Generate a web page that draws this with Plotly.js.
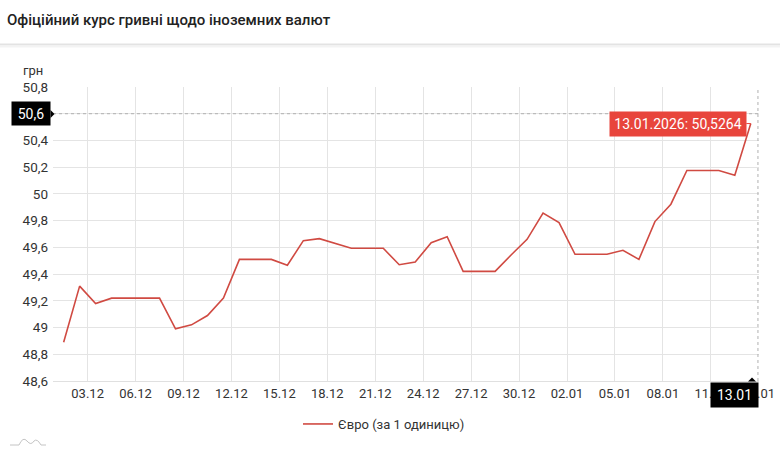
<!DOCTYPE html>
<html>
<head>
<meta charset="utf-8">
<script src="https://cdn.plot.ly/plotly-3.0.1.min.js"></script>
<style>
  html, body { margin: 0; padding: 0; background: #fff; }
  #chart { width: 780px; height: 458px; }
</style>
</head>
<body>
<div id="chart"></div>
<script>
// дати курсу (точка ставиться на середину дня)
const dates = [
  '2025-12-01', '2025-12-02', '2025-12-03', '2025-12-04', '2025-12-05', '2025-12-06',
  '2025-12-07', '2025-12-08', '2025-12-09', '2025-12-10', '2025-12-11', '2025-12-12',
  '2025-12-13', '2025-12-14', '2025-12-15', '2025-12-16', '2025-12-17', '2025-12-18',
  '2025-12-19', '2025-12-20', '2025-12-21', '2025-12-22', '2025-12-23', '2025-12-24',
  '2025-12-25', '2025-12-26', '2025-12-27', '2025-12-28', '2025-12-29', '2025-12-30',
  '2025-12-31', '2026-01-01', '2026-01-02', '2026-01-03', '2026-01-04', '2026-01-05',
  '2026-01-06', '2026-01-07', '2026-01-08', '2026-01-09', '2026-01-10', '2026-01-11',
  '2026-01-12', '2026-01-13',
];

// Євро, грн за 1 одиницю
const euroRates = [
  48.89, 49.31, 49.18, 49.22, 49.22, 49.22,
  49.22, 48.99, 49.02, 49.09, 49.22, 49.51,
  49.51, 49.51, 49.466, 49.65, 49.665, 49.63,
  49.593, 49.593, 49.593, 49.47, 49.49, 49.635,
  49.68, 49.42, 49.42, 49.42, 49.543, 49.66,
  49.856, 49.785, 49.548, 49.548, 49.548, 49.578,
  49.51, 49.793, 49.923, 50.175, 50.175, 50.175,
  50.14, 50.5264,
];

const seriesName = 'Євро (за 1 одиницю)';
const chartTitle = 'Офіційний курс гривні щодо іноземних валют';
const yTicks = [48.6, 48.8, 49, 49.2, 49.4, 49.6, 49.8, 50, 50.2, 50.4, 50.6, 50.8];
const cursorValue = 50.6;
const cursorLabel = '13.01';

const FONT = 'Roboto, "Noto Sans", sans-serif';
const LINE_RED = '#d04a42';
const TIP_RED = '#e8453c';

// розміри області графіка в пікселях, для фігур поза нею
const PLOT = { l: 53, r: 21, t: 87, b: 77, w: 780 - 53 - 21, h: 458 - 87 - 77 };
const px = x => (x - PLOT.l) / PLOT.w;
const py = y => (458 - PLOT.b - y) / PLOT.h;

const xs = dates.map(d => `${d} 12:00`);
const last = xs.length - 1;

function fmtNum(v) {
  return String(v).replace('.', ',');
}

function fmtDate(d) {
  const [y, m, day] = d.split('-');
  return `${day}.${m}.${y}`;
}

const trace = {
  x: xs,
  y: euroRates,
  type: 'scatter',
  mode: 'lines',
  name: seriesName,
  line: { color: LINE_RED, width: 1.6 },
  hoverinfo: 'skip',
};

// мітка 50,6 прихована під чорною плашкою курсора
const yTickText = yTicks.map(v => (v === cursorValue ? '' : fmtNum(v)));

// маленька іконка внизу ліворуч
const iconPath = [
  `M${px(10)},${py(445)}`,
  `L${px(19)},${py(445)}`,
  `Q${px(23)},${py(436)} ${px(27)},${py(441)}`,
  `Q${px(31)},${py(446)} ${px(34)},${py(441)}`,
  `Q${px(37)},${py(438)} ${px(41)},${py(445)}`,
  `L${px(46)},${py(445)}`,
].join(' ');

const layout = {
  width: 780,
  height: 458,
  margin: { l: PLOT.l, r: PLOT.r, t: PLOT.t, b: PLOT.b },
  paper_bgcolor: '#fff',
  plot_bgcolor: '#fff',
  separators: ', ',
  font: { family: FONT, size: 13, color: '#333' },
  title: {
    text: chartTitle,
    xref: 'container',
    yref: 'container',
    x: 7 / 780,
    y: 1 - 20 / 458,
    xanchor: 'left',
    yanchor: 'middle',
    font: { family: FONT, size: 15, color: '#222', weight: 500 },
  },
  showlegend: true,
  legend: {
    orientation: 'h',
    x: 0.5 - 22 / PLOT.w,
    xanchor: 'center',
    y: py(424),
    yanchor: 'middle',
    font: { family: FONT, size: 13, color: '#333' },
    itemwidth: 30,
  },
  xaxis: {
    type: 'date',
    range: ['2025-11-30 20:00', '2026-01-14 00:20'],
    tick0: '2025-12-03',
    dtick: 3 * 86400000,
    tickformat: '%d.%m',
    showgrid: true,
    gridcolor: '#e4e4e4',
    gridwidth: 1,
    showline: true,
    linecolor: '#e0e0e0',
    ticks: '',
    zeroline: false,
    tickfont: { family: FONT, size: 13, color: '#333' },
    fixedrange: true,
  },
  yaxis: {
    range: [48.6, 50.8],
    tickvals: yTicks,
    ticktext: yTickText,
    showgrid: true,
    gridcolor: '#e4e4e4',
    gridwidth: 1,
    showline: false,
    zeroline: false,
    ticks: '',
    ticklabelstandoff: 4,
    tickfont: { family: FONT, size: 13.5, color: '#333' },
    fixedrange: true,
  },
  shapes: [
    // лінія під заголовком
    {
      type: 'line', xref: 'paper', yref: 'paper',
      x0: px(0), x1: px(780), y0: py(44.5), y1: py(44.5),
      line: { color: '#e3e3e3', width: 2 },
    },
    {
      type: 'line', xref: 'paper', yref: 'paper',
      x0: px(0), x1: px(780), y0: py(46.5), y1: py(46.5),
      line: { color: '#f3f3f3', width: 2 },
    },
    // перехрестя курсора
    {
      type: 'line', xref: 'paper', yref: 'y',
      x0: 0, x1: 1, y0: cursorValue, y1: cursorValue,
      line: { color: '#b0b0b0', width: 1, dash: 'dot' },
    },
    {
      type: 'line', xref: 'paper', yref: 'paper',
      x0: 0.9985, x1: 0.9985, y0: 0, y1: 1,
      line: { color: '#b0b0b0', width: 1, dash: 'dot' },
    },
    // вказівники плашок
    {
      type: 'path', xref: 'paper', yref: 'paper',
      path: `M${px(50.5)},${py(110)} L${px(54.5)},${py(114)} L${px(50.5)},${py(118)} Z`,
      fillcolor: '#000', line: { width: 0 },
    },
    {
      type: 'path', xref: 'paper', yref: 'paper',
      path: `M${px(748)},${py(381.5)} L${px(752)},${py(377.5)} L${px(756)},${py(381.5)} Z`,
      fillcolor: '#000', line: { width: 0 },
    },
    {
      type: 'path', xref: 'paper', yref: 'paper',
      path: iconPath,
      line: { color: '#c4c4c4', width: 1 },
    },
  ],
  annotations: [
    {
      text: 'грн', xref: 'paper', yref: 'paper',
      x: px(33), y: py(70),
      xanchor: 'center', yanchor: 'middle', showarrow: false,
      font: { family: FONT, size: 13, color: '#333' },
    },
    {
      text: fmtNum(cursorValue), xref: 'paper', yref: 'y',
      x: 0, y: cursorValue, xanchor: 'right', yanchor: 'middle', xshift: -2,
      showarrow: false, bgcolor: '#000', width: 36, height: 21,
      font: { family: FONT, size: 14, color: '#fff' },
    },
    {
      text: cursorLabel, xref: 'paper', yref: 'paper',
      x: 1, y: 0, xanchor: 'right', yanchor: 'top', yshift: -1,
      showarrow: false, bgcolor: '#000', width: 45, height: 22,
      font: { family: FONT, size: 14, color: '#fff' },
    },
    {
      text: `${fmtDate(dates[last])}: ${fmtNum(euroRates[last])}`,
      xref: 'x', yref: 'y',
      x: xs[last], y: euroRates[last],
      showarrow: true, arrowhead: 0, arrowwidth: 1, arrowcolor: TIP_RED,
      ax: -73, ay: 0, standoff: 0,
      bgcolor: TIP_RED, borderpad: 4, width: 128, height: 16,
      font: { family: FONT, size: 14, color: '#fff' },
    },
  ],
};

Plotly.newPlot('chart', [trace], layout, { displayModeBar: false, staticPlot: true });
</script>
</body>
</html>
